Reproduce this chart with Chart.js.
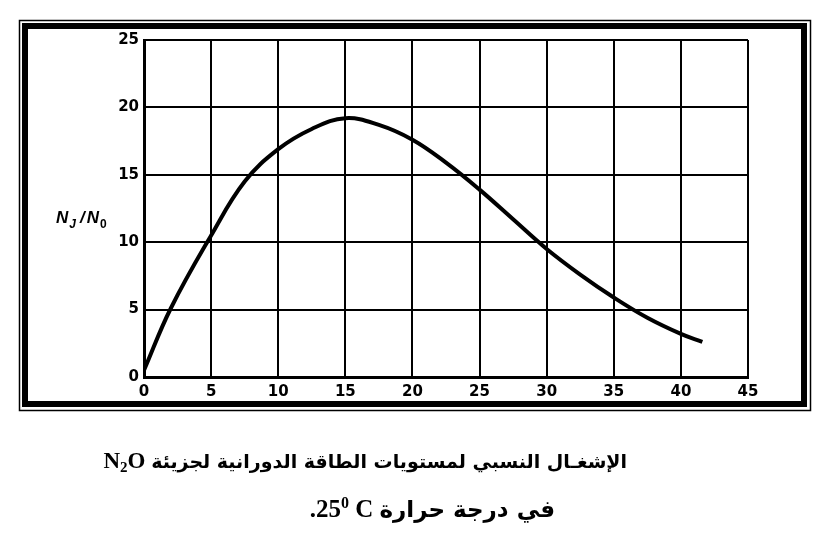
<!DOCTYPE html>
<html>
<head>
<meta charset="utf-8">
<script src="https://cdn.jsdelivr.net/npm/chart.js@4/dist/chart.umd.min.js"></script>
<style>
    body { margin: 0; background: #fff; }
    #wrap { position: relative; width: 818px; height: 543px; }
    #c { position: absolute; left: 0; top: 0; }
    .cap { position: absolute; font-family: "Liberation Serif", "DejaVu Sans", serif; font-weight: bold; color: #000; white-space: nowrap; }
    .cap .ar { font-family: "DejaVu Sans", sans-serif; font-size: 19px; }
    #cap1 { right: 191px; top: 448px; font-size: 23px; }
    #cap2 { right: 263px; top: 494px; font-size: 25px; }
    #cap2 .ar { font-size: 23px; }
    sub { font-size: 15px; vertical-align: -4px; }
    sup { font-size: 16px; vertical-align: 9px; }
</style>
</head>
<body>
<div id="wrap">
    <canvas id="c" width="818" height="543"></canvas>
    <div class="cap" id="cap1" dir="ltr">N<sub>2</sub>O <span class="ar" dir="rtl">الإشغـال النسبي لمستويات الطاقة الدورانية لجزيئة</span></div>
    <div class="cap" id="cap2" dir="ltr">.25<sup>0</sup> C <span class="ar" dir="rtl">في درجة حرارة</span></div>
</div>
<script>
// rotational level J and relative population N_J/N_0
var jValues = [0, 2, 5, 7.5, 10, 12.5, 15, 17.5, 20, 22.5, 25, 27.5, 30, 32.5, 35, 37.5, 40, 41.6];
var ratioValues = [0.5, 5.1, 10.5, 14.5, 16.9, 18.4, 19.2, 18.7, 17.6, 15.9, 13.9, 11.7, 9.5, 7.6, 5.9, 4.4, 3.2, 2.6];
var xTicks = [0, 5, 10, 15, 20, 25, 30, 35, 40, 45];
var yTicks = [0, 5, 10, 15, 20, 25];

var tickFont = { family: 'DejaVu Sans', size: 15, weight: 'bold' };

var points = jValues.map(function (j, i) {
    return { x: j, y: ratioValues[i] };
});

var framePlugin = {
    id: 'frame',
    beforeDraw: function (chart) {
        var ctx = chart.ctx;
        ctx.save();
        ctx.strokeStyle = '#000';
        ctx.lineWidth = 1.5;
        ctx.strokeRect(19.5, 20.5, 791, 390);
        ctx.lineWidth = 6;
        ctx.strokeRect(25, 26, 779, 378);
        ctx.restore();
    },
    afterDraw: function (chart) {
        // y axis title N_J/N_0, drawn horizontally like the original
        var ctx = chart.ctx;
        ctx.save();
        ctx.fillStyle = '#000';
        var x = 56;
        ctx.font = 'italic bold 17px "Liberation Sans"';
        ctx.fillText('N', x, 223);
        x += ctx.measureText('N').width + 1;
        ctx.font = 'italic bold 12px "Liberation Sans"';
        ctx.fillText('J', x, 228);
        x += ctx.measureText('J').width + 4;
        ctx.font = 'italic bold 17px "Liberation Sans"';
        ctx.fillText('/', x, 223);
        x += ctx.measureText('/').width + 2;
        ctx.fillText('N', x, 223);
        x += ctx.measureText('N').width + 1;
        ctx.font = 'bold 12px "Liberation Sans"';
        ctx.fillText('0', x, 228);
        ctx.restore();
    }
};

new Chart(document.getElementById('c').getContext('2d'), {
    type: 'line',
    data: {
        datasets: [{
            data: points,
            borderColor: '#000',
            borderWidth: 4,
            pointRadius: 0,
            fill: false,
            tension: 0.4
        }]
    },
    options: {
        responsive: false,
        animation: false,
        layout: { padding: { left: 0, top: 40, right: 70, bottom: 0 } },
        plugins: { legend: { display: false }, tooltip: { enabled: false } },
        scales: {
            x: {
                type: 'linear',
                min: 0,
                max: 45,
                afterBuildTicks: function (scale) {
                    scale.ticks = xTicks.map(function (v) { return { value: v }; });
                },
                afterFit: function (scale) { scale.height = 166; },
                grid: { color: '#000', lineWidth: 2, drawTicks: false },
                border: { color: '#000', width: 3 },
                ticks: { font: tickFont, color: '#000', padding: 6, maxRotation: 0 }
            },
            y: {
                min: 0,
                max: 25,
                afterBuildTicks: function (scale) {
                    scale.ticks = yTicks.map(function (v) { return { value: v }; });
                },
                afterFit: function (scale) { scale.width = 144; },
                grid: { color: '#000', lineWidth: 2, drawTicks: false },
                border: { color: '#000', width: 3 },
                ticks: { font: tickFont, color: '#000', padding: 5 }
            }
        }
    },
    plugins: [framePlugin]
});
</script>
</body>
</html>
